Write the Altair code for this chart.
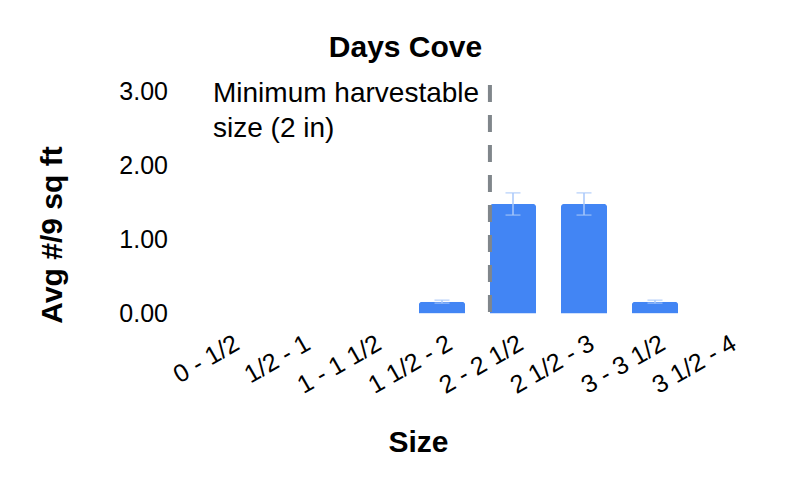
import altair as alt
import pandas as pd

sizes = ["0 - 1/2", "1/2 - 1", "1 - 1 1/2", "1 1/2 - 2",
         "2 - 2 1/2", "2 1/2 - 3", "3 - 3 1/2", "3 1/2 - 4"]
avg = [0, 0, 0, 0.16, 1.48, 1.48, 0.16, 0]
err = [0, 0, 0, 0.02, 0.15, 0.15, 0.02, 0]
y_ticks = [0, 1, 2, 3]
threshold_size = ["2 - 2 1/2"]
note_lines = ["Minimum harvestable", "size (2 in)"]

FONT = "Liberation Sans"

df = pd.DataFrame({"size": sizes, "avg": avg, "err": err})
rule_df = pd.DataFrame({"size": threshold_size})
note_df = pd.DataFrame({"note": [note_lines]})

x_enc = alt.X(
    "size:N", sort=sizes, title="Size",
    scale=alt.Scale(paddingInner=0.35, paddingOuter=0.175),
    axis=alt.Axis(
        labelAngle=-30, labelAlign="right", labelBaseline="top",
        labelOffset=2, labelPadding=17, labelFontSize=25, labelFont=FONT,
        labelColor="#000000", labelOverlap=False, domain=False, ticks=False,
        titleFontSize=30, titleFont=FONT, titleFontWeight="bold",
        titleColor="#000000", titleX=224.5, titleY=128.5,
        titleAlign="center", titleBaseline="middle",
    ),
)
y_scale = alt.Scale(domain=[0, 3])

bars = alt.Chart(df).mark_bar(
    color="#4285F4", cornerRadiusTopLeft=3, cornerRadiusTopRight=3
).encode(
    x=x_enc,
    y=alt.Y(
        "avg:Q", scale=y_scale, title="Avg #/9 sq ft",
        axis=alt.Axis(
            values=y_ticks, format=".2f", grid=False, domain=False, ticks=False,
            labelPadding=26, labelFontSize=25, labelFont=FONT, labelColor="#000000",
            titleFontSize=30, titleFont=FONT, titleFontWeight="bold",
            titleColor="#000000", titleX=-141.5, titleY=143, titleAngle=-90,
            titleAlign="center", titleBaseline="middle",
        ),
    ),
)

base_err = alt.Chart(df).transform_filter("datum.err > 0").transform_calculate(
    lo="datum.avg - datum.err", hi="datum.avg + datum.err"
)
err_rule = base_err.mark_rule(color="#a8c7fa", strokeWidth=1.5).encode(
    x=alt.X("size:N", sort=sizes), y=alt.Y("lo:Q", scale=y_scale), y2="hi:Q"
)
cap_lo = base_err.mark_tick(color="#a8c7fa", thickness=1.5, size=15).encode(
    x=alt.X("size:N", sort=sizes), y=alt.Y("lo:Q", scale=y_scale)
)
cap_hi = base_err.mark_tick(color="#a8c7fa", thickness=1.5, size=15).encode(
    x=alt.X("size:N", sort=sizes), y=alt.Y("hi:Q", scale=y_scale)
)

threshold = alt.Chart(rule_df).mark_rule(
    color="#80868b", strokeWidth=4, strokeDash=[17, 13]
).encode(
    x=alt.X("size:N", sort=sizes, bandPosition=0),
    y=alt.value(-6.5), y2=alt.value(222),
)

note = alt.Chart(note_df).mark_text(
    align="left", baseline="alphabetic", fontSize=28, font=FONT,
    color="#000000", lineHeight=35,
).encode(
    x=alt.value(19.5), y=alt.value(10.5), text="note"
)

chart = alt.layer(bars, err_rule, cap_lo, cap_hi, threshold, note).properties(
    width=568, height=222,
    title=alt.TitleParams(
        "Days Cove", fontSize=30, font=FONT, fontWeight="bold", color="#000000",
        anchor="middle", frame="group", dx=-72, offset=-7, baseline="alphabetic",
    ),
    autosize=alt.AutoSizeParams(type="none"),
    padding={"left": 185.5, "top": 83.5, "right": 20, "bottom": 165},
).configure_view(stroke=None)

chart.save("out.html", embed_options={"renderer": "svg", "actions": False})
